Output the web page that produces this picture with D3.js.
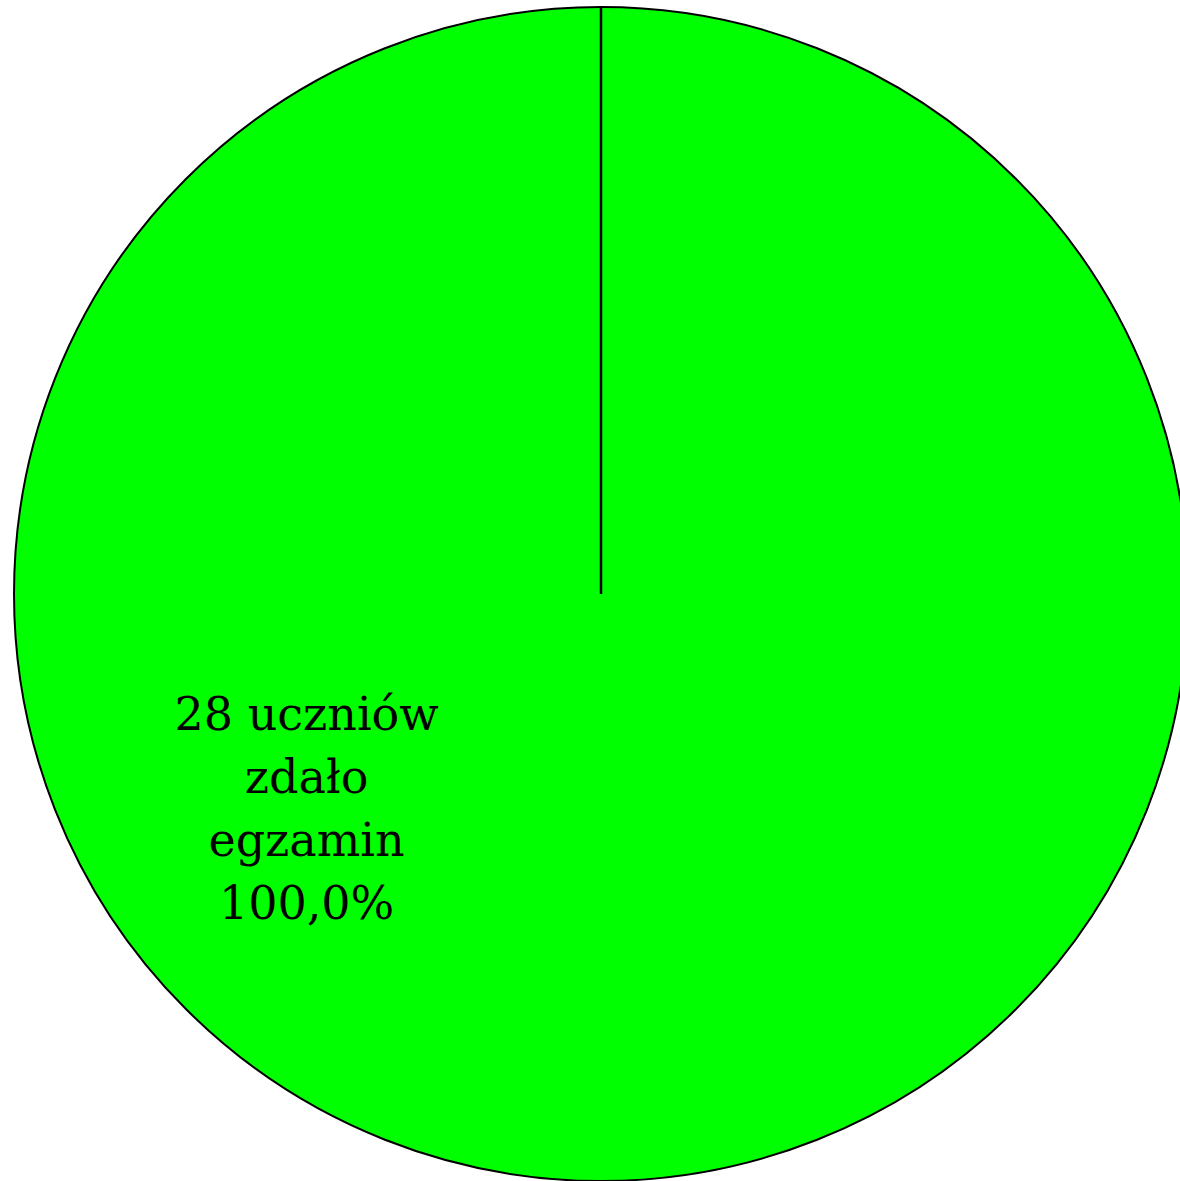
<!DOCTYPE html>
<html>
<head>
<meta charset="utf-8">
<script src="https://cdn.jsdelivr.net/npm/d3@7"></script>
<style>
html,body{margin:0;padding:0;background:#fff;overflow:hidden;}
svg{display:block;}
</style>
</head>
<body>
<script>
const categories = ["zdało egzamin"];
const counts = [28];
const percentLabels = ["100,0%"];
const labelLines = [["28 uczniów", "zdało", "egzamin", "100,0%"]];
const colors = ["#00ff00"];

const W = 1180, H = 1181;
const cx = 601, cy = 594, R = 587;

const svg = d3.select("body").append("svg").attr("width", W).attr("height", H);
const g = svg.append("g").attr("transform", `translate(${cx},${cy})`);

const pie = d3.pie().sort(null).value(d => d);
const arcs = pie(counts);
const arc = d3.arc().innerRadius(0).outerRadius(R);

g.selectAll("path.slice").data(arcs).join("path")
  .attr("class", "slice")
  .attr("d", arc)
  .attr("fill", (d, i) => colors[i])
  .attr("stroke", "#000")
  .attr("stroke-width", 2);

// radial divider at each slice start
g.selectAll("line.div").data(arcs).join("line")
  .attr("class", "div")
  .attr("x1", 0).attr("y1", 0)
  .attr("x2", d => R * Math.sin(d.startAngle))
  .attr("y2", d => -R * Math.cos(d.startAngle))
  .attr("stroke", "#000")
  .attr("stroke-width", 2.5);

// label placement
const labelAngle = 234 * Math.PI / 180;
const labelR = 0.62 * R;
const lineH = 63;
const fs = 46;
arcs.forEach((d, i) => {
  const lx = labelR * Math.sin(labelAngle);
  const ly = -labelR * Math.cos(labelAngle);
  const lines = labelLines[i];
  const t = g.append("text")
    .attr("text-anchor", "middle")
    .attr("font-family", "DejaVu Serif")
    .attr("font-size", fs)
    .attr("fill", "#000");
  const firstBaseline = ly - (lines.length - 1) * lineH / 2 + 0.35 * fs;
  lines.forEach((s, j) => {
    t.append("tspan").attr("x", lx).attr("y", firstBaseline + j * lineH).text(s);
  });
});
</script>
</body>
</html>
